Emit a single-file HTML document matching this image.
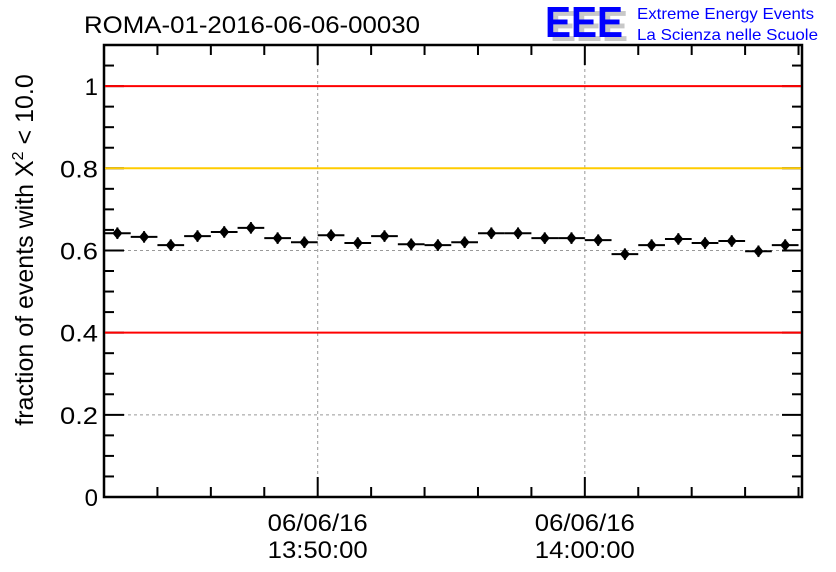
<!DOCTYPE html>
<html><head><meta charset="utf-8"><style>
body{margin:0;background:#fff;}
svg{display:block;font-family:"Liberation Sans",sans-serif;}
</style></head><body>
<svg id="chart" width="836" height="572">
<text x="84" y="33" font-size="24" textLength="336" lengthAdjust="spacingAndGlyphs">ROMA-01-2016-06-06-00030</text>
<g>
<text x="550" y="41" font-size="44" font-weight="bold" fill="#c8c8c8" textLength="78" lengthAdjust="spacingAndGlyphs">EEE</text>
<text x="545" y="37" font-size="44" font-weight="bold" fill="#0000ff" textLength="78" lengthAdjust="spacingAndGlyphs">EEE</text>
<text x="637" y="19" font-size="16" fill="#0000ff" textLength="177" lengthAdjust="spacingAndGlyphs">Extreme Energy Events</text>
<text x="637" y="40" font-size="16" fill="#0000ff" textLength="181" lengthAdjust="spacingAndGlyphs">La Scienza nelle Scuole</text>
</g>
<text transform="translate(33,250) rotate(-90)" text-anchor="middle" font-size="25">fraction of events with Χ<tspan dy="-10" font-size="16">2</tspan><tspan dy="10"> &lt; 10.0</tspan></text>
<g id="grid"></g><g id="axes"></g><g id="refs"></g><g id="marks"></g>
</svg>
<script>
const values=[0.642,0.633,0.613,0.635,0.645,0.655,0.630,0.620,0.637,0.618,0.635,0.615,0.613,0.620,0.642,0.642,0.630,0.630,0.625,0.591,0.613,0.628,0.618,0.623,0.598,0.613];
const errors=[0.014,0.014,0.014,0.014,0.014,0.014,0.014,0.014,0.014,0.014,0.014,0.014,0.014,0.014,0.014,0.014,0.014,0.014,0.014,0.014,0.014,0.014,0.014,0.014,0.014,0.014];
const yTicks=[0,0.2,0.4,0.6,0.8,1];
const yTickLabels=["0","0.2","0.4","0.6","0.8","1"];
const xTicksMin=[8,18];
const xTickLabels=[["06/06/16","13:50:00"],["06/06/16","14:00:00"]];
const refLines=[[1,"#ff0000"],[0.8,"#ffcc00"],[0.4,"#ff0000"]];
const L=104,R=802,T=45,B=497,X0=0,X1=26.13,Y0=0,Y1=1.1;
const sx=m=>L+(m-X0)/(X1-X0)*(R-L), sy=v=>B-(v-Y0)/(Y1-Y0)*(B-T);
const NS="http://www.w3.org/2000/svg";
function mk(p,t,a){const e=document.createElementNS(NS,t);for(const k in a)e.setAttribute(k,a[k]);document.getElementById(p).appendChild(e);return e;}
[0.2,0.6].forEach(v=>{const e=mk('grid','line',{x1:L,x2:R,y1:sy(v),y2:sy(v),stroke:'#999','stroke-dasharray':'3,3'});

});
xTicksMin.forEach(m=>{const e=mk('grid','line',{x1:sx(m),x2:sx(m),y1:T,y2:B,stroke:'#999','stroke-dasharray':'3,3'});

});
refLines.forEach(r=>{const e=mk('refs','line',{x1:L+1,x2:R-1,y1:sy(r[0]),y2:sy(r[0]),stroke:r[1],'stroke-width':2});

});
const f=mk('axes','rect',{x:L,y:T,width:R-L,height:B-T,fill:'none',stroke:'#000','stroke-width':2.5});


for(let v=0;v<=1.1001;v+=0.05){const major=Math.abs(v/0.2-Math.round(v/0.2))<1e-6;const len=major?20:10;
mk('axes','line',{x1:L,x2:L+len,y1:sy(v),y2:sy(v),stroke:'#000','stroke-width':2});
mk('axes','line',{x1:R,x2:R-len,y1:sy(v),y2:sy(v),stroke:'#000','stroke-width':2});}
yTicks.forEach((v,i)=>{const t=mk('axes','text',{x:L-6,y:sy(v)+9,'text-anchor':'end','font-size':24});t.textContent=yTickLabels[i];
if(yTickLabels[i].length>1){t.setAttribute('textLength',38);t.setAttribute('lengthAdjust','spacingAndGlyphs');}

});
for(let m=0;m<=26;m+=2){const major=xTicksMin.includes(m);const len=major?20:10;
mk('axes','line',{x1:sx(m),x2:sx(m),y1:B,y2:B-len,stroke:'#000','stroke-width':2});
mk('axes','line',{x1:sx(m),x2:sx(m),y1:T,y2:T+len,stroke:'#000','stroke-width':2});}
xTicksMin.forEach((m,i)=>{xTickLabels[i].forEach((s,j)=>{const t=mk('axes','text',{x:sx(m),y:531+j*27,'text-anchor':'middle','font-size':24,textLength:100,lengthAdjust:'spacingAndGlyphs'});t.textContent=s;

});});
values.forEach((v,i)=>{const c=i+0.5;const g=mk('marks','g',{});


const x=sx(c),y=sy(v);
const a=(t,o)=>{const e=document.createElementNS(NS,t);for(const k in o)e.setAttribute(k,o[k]);g.appendChild(e);};
a('line',{x1:sx(c-0.5),x2:sx(c+0.5),y1:y,y2:y,stroke:'#000','stroke-width':2});
a('line',{x1:x,x2:x,y1:sy(v-errors[i]),y2:sy(v+errors[i]),stroke:'#000','stroke-width':2});
a('polygon',{points:`${x},${y-6} ${x+5},${y} ${x},${y+6} ${x-5},${y}`,fill:'#000'});});
</script>
</body></html>
